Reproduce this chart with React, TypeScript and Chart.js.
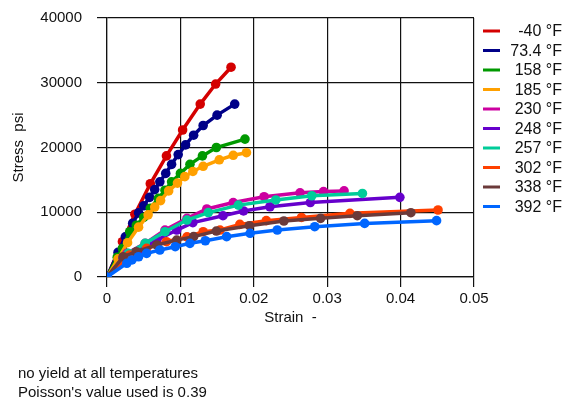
import React, { useEffect, useRef } from "react";
import { Chart, registerables } from "chart.js";
Chart.register(...registerables);

const seriesNames = ["-40 °F", "73.4 °F", "158 °F", "185 °F", "230 °F", "248 °F", "257 °F", "302 °F", "338 °F", "392 °F"];
const seriesColors = ["#d40000", "#000088", "#009900", "#ffa000", "#cc00a0", "#6600cc", "#00cc99", "#ff4000", "#6b3a3a", "#0066ff"];

const s40: number[][] = [[0, 0], [0.0021, 5450], [0.0038, 9700], [0.0059, 14400], [0.0081, 18700], [0.0103, 22700], [0.0127, 26700], [0.0148, 29800], [0.0169, 32400]];
const s73: number[][] = [[0, 0], [0.0015, 3800], [0.0025, 6200], [0.0035, 8300], [0.0043, 9900], [0.005, 11000], [0.0058, 12300], [0.0065, 13500], [0.0072, 14700], [0.008, 16000], [0.0088, 17400], [0.0097, 18900], [0.0107, 20400], [0.0118, 21900], [0.0131, 23400], [0.015, 25000], [0.0174, 26700]];
const s158: number[][] = [[0, 0], [0.0014, 3050], [0.0021, 4400], [0.0031, 7000], [0.004, 8000], [0.005, 9200], [0.0059, 10600], [0.007, 12150], [0.0079, 13400], [0.0088, 14700], [0.01, 16000], [0.0113, 17400], [0.013, 18700], [0.0149, 20000], [0.0188, 21300]];
const s185: number[][] = [[0, 0], [0.0015, 2800], [0.0028, 5300], [0.0043, 7700], [0.0056, 9600], [0.0065, 10800], [0.0073, 11800], [0.0084, 13300], [0.0096, 14500], [0.0106, 15500], [0.0117, 16300], [0.0131, 17100], [0.0153, 18100], [0.0172, 18800], [0.019, 19200]];
const s230: number[][] = [[0, 0], [0.0027, 3650], [0.0052, 5200], [0.0079, 7250], [0.0109, 9050], [0.0136, 10500], [0.0172, 11500], [0.0214, 12400], [0.0263, 13000], [0.0295, 13200], [0.0323, 13300]];
const s248: number[][] = [[0, 0], [0.0022, 2900], [0.0045, 4170], [0.0068, 5700], [0.0095, 7250], [0.0117, 8400], [0.0158, 9470], [0.0186, 10200], [0.0222, 10850], [0.0277, 11500], [0.0399, 12300]];
const s257: number[][] = [[0, 0], [0.0029, 3650], [0.0052, 5200], [0.0079, 7000], [0.0109, 8800], [0.0138, 9950], [0.0179, 11100], [0.023, 11900], [0.0279, 12550], [0.0348, 12900]];
const s302: number[][] = [[0, 0], [0.0031, 3400], [0.0054, 4430], [0.0081, 5450], [0.0109, 6200], [0.0131, 7000], [0.0154, 7250], [0.0181, 8130], [0.0217, 8700], [0.0265, 9200], [0.0331, 9830], [0.0451, 10350]];
const s338: number[][] = [[0, 0], [0.0022, 3130], [0.004, 3900], [0.0068, 4940], [0.0095, 5700], [0.0118, 6230], [0.0149, 7100], [0.0194, 7920], [0.0241, 8650], [0.0291, 9060], [0.0341, 9470], [0.0414, 9930]];
const s392: number[][] = [[0, 0], [0.0027, 2120], [0.0034, 2630], [0.0043, 3130], [0.0054, 3650], [0.0072, 4170], [0.0093, 4680], [0.0113, 5200], [0.0134, 5600], [0.0163, 6230], [0.0195, 6750], [0.0232, 7260], [0.0283, 7770], [0.0351, 8280], [0.0449, 8700]];
const seriesData = [s40, s73, s158, s185, s230, s248, s257, s302, s338, s392];

const xTicks = [0, 0.01, 0.02, 0.03, 0.04, 0.05];
const xTickLabels = ["0", "0.01", "0.02", "0.03", "0.04", "0.05"];
const yTicks = [0, 10000, 20000, 30000, 40000];
const yTickLabels = ["0", "10000", "20000", "30000", "40000"];
const xTitle = "Strain  -";
const yTitle = "Stress  psi";
const notes = ["no yield at all temperatures", "Poisson's value used is 0.39"];

const FONT = "'Liberation Sans', Arial, sans-serif";

export default function App() {
  const ref = useRef<HTMLCanvasElement | null>(null);
  useEffect(() => {
    document.body.style.margin = "0";
    const canvas = ref.current!;
    const textPlugin = {
      id: "customText",
      afterDraw(chart: any) {
        const ctx = chart.ctx;
        const ca = chart.chartArea;
        ctx.save();
        ctx.fillStyle = "#111";
        ctx.textBaseline = "middle";
        ctx.font = `16px ${FONT}`;
        ctx.textAlign = "right";
        seriesNames.forEach((n, i) => {
          const y = 31 + i * 19.5;
          ctx.strokeStyle = seriesColors[i];
          ctx.lineWidth = 3;
          ctx.beginPath();
          ctx.moveTo(483, y);
          ctx.lineTo(500, y);
          ctx.stroke();
          ctx.fillText(n, 562, y + 1);
        });
        ctx.font = `15px ${FONT}`;
        ctx.textAlign = "center";
        ctx.fillText(xTitle, (ca.left + ca.right) / 2, 318);
        ctx.save();
        ctx.translate(19, (ca.top + ca.bottom) / 2);
        ctx.rotate(-Math.PI / 2);
        ctx.fillText(yTitle, 0, 0);
        ctx.restore();
        ctx.textAlign = "left";
        notes.forEach((t, i) => ctx.fillText(t, 18, 374 + i * 19));
        ctx.restore();
      },
    };
    const chart = new Chart(canvas, {
      type: "line",
      data: {
        datasets: seriesData.map((d, i) => ({
          label: seriesNames[i],
          data: d.map((p) => ({ x: p[0], y: p[1] })),
          borderColor: seriesColors[i],
          backgroundColor: seriesColors[i],
          pointRadius: 4.8,
          pointBorderWidth: 0,
          borderWidth: 3.5,
          fill: false,
          order: 10 - i,
        })),
      },
      options: {
        animation: false,
        responsive: false,
        layout: { padding: { left: 0, top: 18, right: 90, bottom: 0 } },
        plugins: { legend: { display: false }, tooltip: { enabled: false } },
        scales: {
          x: {
            type: "linear",
            min: 0,
            max: 0.05,
            afterBuildTicks: (s: any) => { s.ticks = xTicks.map((v) => ({ value: v })); },
            afterFit: (s: any) => { s.height = 402 - 277; s.paddingLeft = 0; s.paddingRight = 0; },
            ticks: {
              color: "#111",
              font: { family: FONT, size: 15 },
              padding: 3,
              callback: (v: any) => { const k = xTicks.findIndex((t) => Math.abs(t - v) < 1e-9); return k >= 0 ? xTickLabels[k] : ""; },
            },
            grid: { color: "#111", lineWidth: 1.2, tickLength: 10, tickColor: "#111" },
            border: { color: "#111", width: 1.2 },
          },
          y: {
            type: "linear",
            min: 0,
            max: 40000,
            afterBuildTicks: (s: any) => { s.ticks = yTicks.map((v) => ({ value: v })); },
            afterFit: (s: any) => { s.width = 107; s.paddingTop = 0; s.paddingBottom = 0; },
            ticks: {
              color: "#111",
              font: { family: FONT, size: 15 },
              padding: 15,
              callback: (v: any) => { const k = yTicks.indexOf(v); return k >= 0 ? yTickLabels[k] : ""; },
            },
            grid: { color: "#111", lineWidth: 1.2, tickLength: 10, tickColor: "#111" },
            border: { color: "#111", width: 1.2 },
          },
        },
      },
      plugins: [textPlugin],
    } as any);
    return () => chart.destroy();
  }, []);
  return <canvas ref={ref} width={564} height={402} style={{ display: "block" }} />;
}
